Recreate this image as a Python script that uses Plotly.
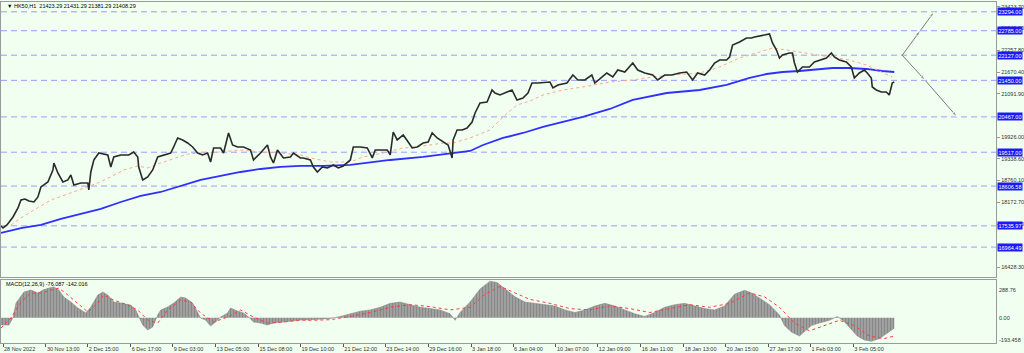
import plotly.graph_objects as go

# ---------------- data ----------------
title_text = "\u25bc HK50,H1  21423.29 21431.29 21381.29 21408.29"
macd_title = "MACD(12,26,9) -76.087 -142.016"

bar_x = [0,2,6,12,17,20,24,28,33,37,40,47,52,53,57,62,67,70,73,80,87,88,90,93,98,107,110,113,120,128,
         133,137,138,142,147,152,157,163,170,173,177,182,187,192,197,202,207,210,213,220,223,228,232,237,243,
         250,253,260,267,270,273,277,283,290,293,300,303,310,313,317,322,327,333,338,343,350,353,360,367,372,
         375,380,387,390,393,397,403,408,412,417,423,428,432,437,443,448,452,453,457,462,467,472,475,480,487,
         492,495,500,507,512,517,523,528,532,538,545,550,553,558,567,573,578,585,592,595,600,607,613,618,625,
         633,638,645,653,658,665,672,680,687,693,698,705,710,715,720,727,730,733,740,747,752,755,760,767,770,
         773,777,780,783,790,793,795,798,803,810,815,820,827,832,835,840,847,852,855,860,865,868,872,873,877,
         882,887,890,893,895]
close = [17533,17479,17560,17775,18017,18232,18259,18205,18178,18313,18582,18716,19039,19227,18958,18716,18770,18905,18636,18689,
         18689,18501,18985,19308,19496,19443,19120,19389,19443,19443,19523,19389,19120,18770,18851,19039,19389,19443,19496,19658,
         19900,19846,19765,19658,19496,19443,19496,19254,19631,19631,19496,20034,19711,19658,19658,19577,19308,19496,19711,19389,
         19227,19577,19362,19389,19496,19362,19362,19308,19120,18985,19120,19093,19174,19093,19147,19308,19658,19658,19631,19362,
         19577,19577,19577,19443,20061,19846,19981,19792,19631,19658,19765,19792,20034,19900,19792,19711,19362,19846,20115,20115,
         20169,20330,20572,20841,20868,21191,21110,21057,21137,21191,20922,20976,21110,21379,21379,21406,21406,21245,21326,21379,
         21594,21460,21460,21594,21379,21487,21648,21541,21729,21675,21917,21729,21648,21594,21460,21594,21594,21648,21675,21460,
         21648,21594,21729,21917,21998,21998,22079,22402,22482,22590,22590,22617,22644,22671,22697,22455,22267,22052,22133,22186,
         22186,21917,21675,21810,21810,21944,21998,22052,22186,22079,21998,21944,21810,21514,21648,21729,21648,21514,21272,21191,
         21137,21137,21057,21379,21408]

fast_ma_x = [10,20,33,50,67,83,97,110,123,137,147,160,173,187,200,220,240,260,280,300,310,330,350,363,383,403,423,443,453,470,
             490,503,517,530,543,563,583,610,633,653,673,700,720,740,760,773,787,800,817,833,850,867,883,893]
fast_ma = [17560,17748,17963,18232,18393,18555,18689,18851,19039,19147,19093,19227,19335,19469,19496,19523,19577,19523,19496,19443,
           19362,19254,19254,19389,19496,19631,19685,19765,19765,19900,20115,20465,20788,20895,21057,21191,21272,21406,21460,21541,
           21594,21648,21810,22052,22213,22321,22267,22213,22133,22079,21998,21864,21675,21541]

slow_ma_x = [0,20,40,60,80,100,120,140,160,180,200,220,240,260,280,300,323,350,390,423,453,470,483,503,523,543,563,583,610,633,
             667,700,727,750,767,783,800,833,850,867,883,895]
slow_ma = [17344,17478,17560,17721,17855,17990,18178,18340,18447,18609,18770,18878,18985,19066,19120,19147,19147,19174,19308,19389,
           19496,19550,19711,19900,20034,20196,20330,20465,20680,20922,21110,21191,21326,21514,21621,21675,21702,21783,21783,21756,
           21702,21675]

hist_x = [0,8,12,15,23,30,37,42,48,53,58,63,70,77,85,90,97,102,107,113,120,130,135,138,142,147,152,157,160,167,
          173,180,185,192,197,200,205,210,215,220,227,230,237,243,248,253,260,267,273,283,290,300,310,320,330,340,350,360,370,380,
          390,400,410,420,430,440,450,455,460,470,480,490,497,505,515,525,535,545,555,565,575,585,595,605,615,625,635,645,655,665,
          675,685,695,705,715,725,735,745,752,760,770,780,785,792,800,806,812,820,830,838,845,852,858,865,872,880,888,895]
macd_hist = [-56,-56,0,112,197,212,189,212,227,235,212,158,120,74,36,82,174,197,174,120,112,97,59,5,-56,-94,-71,21,59,82,
             112,158,151,112,36,-2,-18,-64,-33,5,36,74,51,36,5,-33,-41,-56,-41,-33,-25,-18,-15,-10,-5,10,30,50,60,80,
             110,120,100,80,70,60,30,-20,40,120,220,280,270,220,160,120,110,100,90,60,40,60,90,110,90,60,30,10,40,80,
             100,110,90,70,60,90,180,210,190,150,100,20,-60,-110,-140,-100,-60,-40,-20,10,-30,-90,-140,-170,-180,-160,-120,-80]

sig_x = [0,10,20,30,40,50,58,67,77,87,97,103,113,127,137,147,157,167,180,190,200,213,227,240,253,267,283,300,
         310,330,350,370,390,410,430,450,470,485,500,515,530,550,570,590,610,630,650,670,690,710,730,750,765,780,795,810,825,840,
         855,870,885,895]
macd_signal = [-79,-2,120,189,189,212,227,174,112,44,112,174,135,97,59,-18,-41,59,135,120,36,-33,5,59,5,-41,-33,-18,
               -20,-15,10,40,80,100,85,60,80,180,240,190,140,110,70,60,90,70,40,70,100,80,110,190,160,80,-40,-100,-60,-20,
               -60,-140,-160,-140]

levels = [23294.00, 22785.00, 22127.00, 21450.00, 20467.00, 19517.00, 18606.58, 17535.97, 16964.49]
price_ticks = [23423.70, 22845.30, 22257.80, 21670.40, 21091.90, 19926.00, 19338.60, 18760.10,
               18172.70, 17584.30, 16428.30]
macd_ticks = [288.76, 0.00, -193.458]
macd_tick_text = ["288.76", "0.00", "-193.458"]

time_tick_pos = [2,45,87,130,172,215,258,300,343,385,428,471,513,556,598,641,684,726,769,811,854]
time_tick_labels = ["28 Nov 2022","30 Nov 13:00","2 Dec 15:00","6 Dec 17:00","9 Dec 03:00","13 Dec 05:00",
                    "15 Dec 08:00","19 Dec 10:00","21 Dec 12:00","23 Dec 14:00","29 Dec 16:00","3 Jan 18:00",
                    "6 Jan 04:00","10 Jan 07:00","12 Jan 09:00","16 Jan 11:00","18 Jan 13:00","20 Jan 15:00",
                    "27 Jan 17:00","1 Feb 03:00","3 Feb 05:00"]

proj_up_x = [903, 921, 935]
proj_up = [22127.00, 22785.00, 23294.00]
proj_down_x = [903, 926, 958]
proj_down = [22127.00, 21450.00, 20467.00]

assert len(bar_x) == len(close)
assert len(fast_ma_x) == len(fast_ma)
assert len(slow_ma_x) == len(slow_ma)
assert len(hist_x) == len(macd_hist)
assert len(sig_x) == len(macd_signal)

# ---------------- styling ----------------
BG = "#f0fff0"
FONT = "Liberation Sans"
FS = 5.5
FRAME = "#9a9a9a"
W, H = 1024, 353
X_RIGHT = 997 / W

fig = go.Figure()

for lv in levels:
    fig.add_hline(y=lv, line=dict(color="#9c9cff", width=1, dash="6px,4px"), layer="below")

fig.add_trace(go.Scatter(x=slow_ma_x, y=slow_ma, mode="lines", line=dict(color="#2f2fff", width=1.8),
                         xaxis="x", yaxis="y", hoverinfo="skip"))
fig.add_trace(go.Scatter(x=fast_ma_x, y=fast_ma, mode="lines", line=dict(color="#ffa58c", width=1, dash="dot"),
                         xaxis="x", yaxis="y", hoverinfo="skip"))
fig.add_trace(go.Scatter(x=bar_x, y=close, mode="lines", line=dict(color="#2a2a2a", width=1.6),
                         xaxis="x", yaxis="y"))

for px_, py_ in ((proj_up_x, proj_up), (proj_down_x, proj_down)):
    fig.add_trace(go.Scatter(x=px_, y=py_, mode="lines+markers",
                             line=dict(color="#7a7a7a", width=1),
                             marker=dict(symbol="arrow", angleref="previous", size=[0, 6, 6], color="#7a7a7a"),
                             xaxis="x", yaxis="y", hoverinfo="skip"))

fig.add_trace(go.Scatter(x=hist_x, y=macd_hist, mode="lines", fill="tozeroy",
                         line=dict(color="#808080", width=0.5),
                         fillcolor="#969696",
                         fillpattern=dict(shape="|", size=3, solidity=0.45, fgcolor="#6a6a6a", bgcolor="#a4a4a4"),
                         xaxis="x2", yaxis="y2", hoverinfo="skip"))
fig.add_trace(go.Scatter(x=sig_x, y=macd_signal, mode="lines", line=dict(color="#ff3b3b", width=1, dash="dot"),
                         xaxis="x2", yaxis="y2", hoverinfo="skip"))

annotations = [
    dict(text=title_text, x=4 / W, y=1 - 6 / H, xref="paper", yref="paper", xanchor="left", yanchor="middle",
         showarrow=False, font=dict(family=FONT, size=FS, color="#000")),
    dict(text=macd_title, x=3 / W, y=1 - 284 / H, xref="paper", yref="paper", xanchor="left", yanchor="middle",
         showarrow=False, font=dict(family=FONT, size=FS, color="#000")),
]
for lv in levels:
    annotations.append(dict(text=f"{lv:.2f}", x=X_RIGHT + 1 / W, y=lv, xref="paper", yref="y",
                            xanchor="left", yanchor="middle", showarrow=False, bgcolor="#1a1aff",
                            borderpad=0.5, font=dict(family=FONT, size=FS, color="#ffffff")))
shifts = [-10, 0, 3]
for v, t, s in zip(macd_ticks, macd_tick_text, shifts):
    annotations.append(dict(text=t, x=X_RIGHT + 1 / W, y=v, xref="paper", yref="y2", yshift=s,
                            xanchor="left", yanchor="middle", showarrow=False,
                            font=dict(family=FONT, size=FS, color="#333")))

fig.update_layout(
    width=W, height=H, margin=dict(l=0, r=0, t=0, b=0),
    paper_bgcolor=BG, plot_bgcolor=BG, showlegend=False,
    font=dict(family=FONT, size=FS, color="#333"),
    xaxis=dict(domain=[0, X_RIGHT], range=[0, 997], anchor="y", showticklabels=False, ticks="",
               showgrid=False, zeroline=False, showline=True, mirror=True, linecolor=FRAME, linewidth=1),
    yaxis=dict(domain=[1 - 277 / H, 1 - 2 / H], range=[16160, 23558], side="right", anchor="x",
               tickvals=price_ticks, ticktext=[f"{v:.2f}" for v in price_ticks],
               ticks="outside", ticklen=3, tickcolor=FRAME, tickfont=dict(family=FONT, size=FS, color="#333"),
               showgrid=False, zeroline=False, showline=True, mirror=True, linecolor=FRAME, linewidth=1),
    xaxis2=dict(domain=[0, X_RIGHT], range=[0, 997], anchor="y2", matches="x",
                tickvals=time_tick_pos, ticktext=time_tick_labels, ticks="outside", ticklen=3, tickcolor="#555",
                ticklabelposition="outside right", tickfont=dict(family=FONT, size=FS, color="#333"),
                showgrid=False, zeroline=False, showline=True, mirror=True, linecolor=FRAME, linewidth=1),
    yaxis2=dict(domain=[1 - 343 / H, 1 - 280 / H], range=[-193.458, 288.76], side="right", anchor="x2",
                showticklabels=False, ticks="",
                showgrid=False, zeroline=False, showline=True, mirror=True, linecolor=FRAME, linewidth=1),
    annotations=annotations,
)

fig.write_html("out.html")
